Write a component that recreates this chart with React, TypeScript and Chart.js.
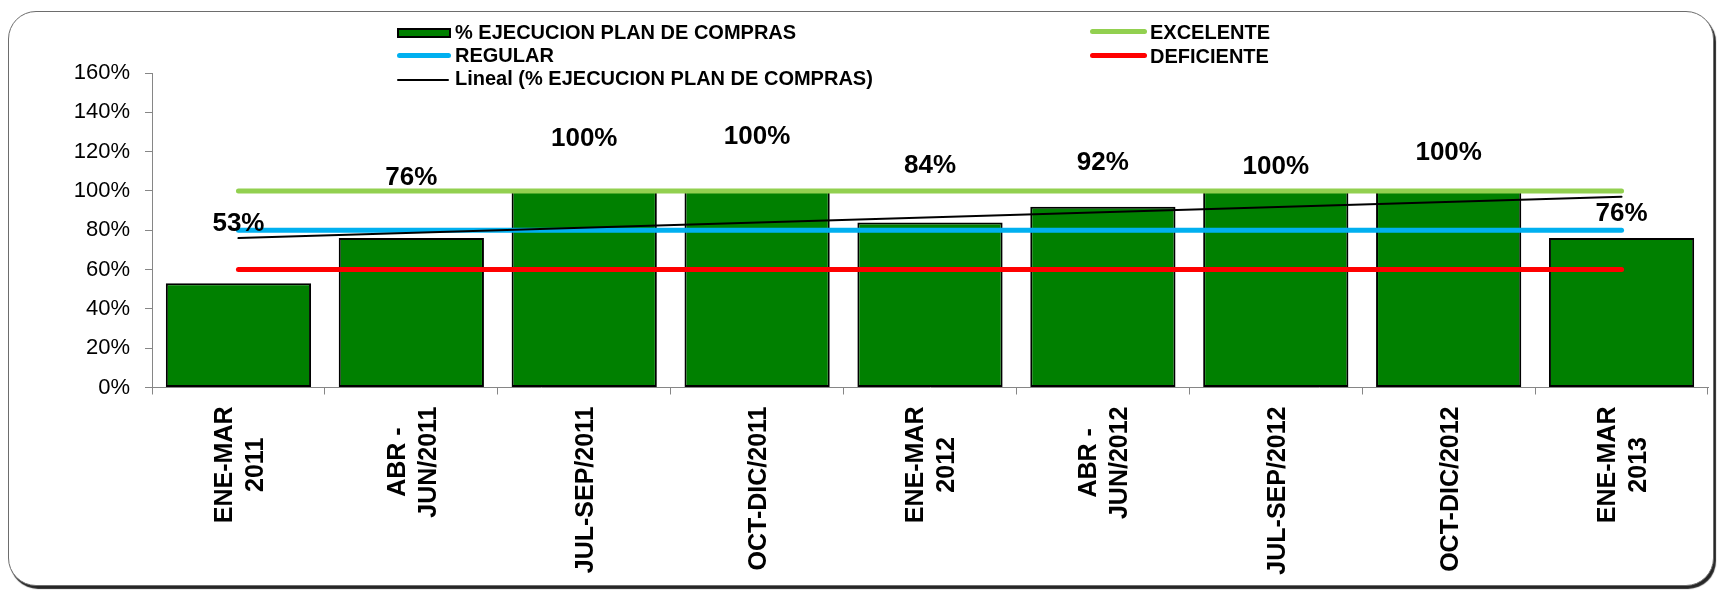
import React, { useEffect, useRef } from 'react';
import { Chart, registerables } from 'chart.js';

Chart.register(...registerables);

// ---------- data ----------
const categories: string[][] = [
  ['ENE-MAR', '2011'],
  ['ABR -', 'JUN/2011'],
  ['JUL-SEP/2011'],
  ['OCT-DIC/2011'],
  ['ENE-MAR', '2012'],
  ['ABR -', 'JUN/2012'],
  ['JUL-SEP/2012'],
  ['OCT-DIC/2012'],
  ['ENE-MAR', '2013'],
];
const ejecucion = [53, 76, 100, 100, 84, 92, 100, 100, 76];
const excelente = [100, 100, 100, 100, 100, 100, 100, 100, 100];
const regular = [80, 80, 80, 80, 80, 80, 80, 80, 80];
const deficiente = [60, 60, 60, 60, 60, 60, 60, 60, 60];
// linear trend line, read at first and last category
const trendEnds = [76, 97];
// level (in %) at which each data label sits in the picture
const labelLevels = [84.2, 107.8, 127.5, 128.7, 113.8, 115.4, 113.5, 120.5, 89.3];
const yTickValues = [0, 20, 40, 60, 80, 100, 120, 140, 160];

const seriesNames = {
  bar: '% EJECUCION PLAN DE COMPRAS',
  excelente: 'EXCELENTE',
  regular: 'REGULAR',
  deficiente: 'DEFICIENTE',
  trend: 'Lineal (% EJECUCION PLAN DE COMPRAS)',
};

const colors = {
  bar: '#008000',
  excelente: '#92D050',
  regular: '#00B0F0',
  deficiente: '#FF0000',
  trend: '#000000',
  axis: '#868686',
};

const FONT = '"Liberation Sans", Arial, Helvetica, sans-serif';
const W = 1719;
const H = 590;

export default function App() {
  const ref = useRef<HTMLCanvasElement>(null);

  useEffect(() => {
    if (!ref.current) return;
    const n = categories.length;
    const trend = categories.map((_, i) =>
      i === 0 ? trendEnds[0] : i === n - 1 ? trendEnds[1] : null
    );

    const barLabelPlugin = {
      id: 'barLabels',
      afterDatasetsDraw(chart: any) {
        const { ctx } = chart;
        const x = chart.scales.x;
        const y = chart.scales.y;
        ctx.save();
        ctx.font = `bold 26px ${FONT}`;
        ctx.fillStyle = '#000';
        ctx.textAlign = 'center';
        ctx.textBaseline = 'alphabetic';
        ejecucion.forEach((v, i) => {
          const px = x.getPixelForValue(i);
          const py = y.getPixelForValue(labelLevels[i]);
          ctx.fillText(`${v}%`, px, py + 0.358 * 26);
        });
        ctx.restore();
      },
    };

    const xLabelPlugin = {
      id: 'xLabels',
      afterDraw(chart: any) {
        const { ctx } = chart;
        const x = chart.scales.x;
        ctx.save();
        ctx.font = `bold 25px ${FONT}`;
        ctx.fillStyle = '#000';
        ctx.textAlign = 'center';
        ctx.textBaseline = 'alphabetic';
        categories.forEach((lines, i) => {
          const cx = x.getPixelForValue(i);
          const maxW = Math.max(...lines.map((l) => ctx.measureText(l).width));
          const cy = x.top + 19 + maxW / 2;
          lines.forEach((l, j) => {
            const lx = cx + (j - (lines.length - 1) / 2) * 31;
            ctx.save();
            ctx.translate(lx, cy);
            ctx.rotate(-Math.PI / 2);
            ctx.fillText(l, 0, 0.358 * 25);
            ctx.restore();
          });
        });
        ctx.restore();
      },
    };

    const lineDs = (label: string, data: any[], color: string, width: number, order: number) => ({
      type: 'line' as const,
      label,
      data,
      borderColor: color,
      backgroundColor: color,
      borderWidth: width,
      borderCapStyle: 'round' as const,
      pointRadius: 0,
      pointHoverRadius: 0,
      fill: false,
      tension: 0,
      spanGaps: true,
      order,
    });

    const chart = new Chart(ref.current, {
      type: 'bar',
      data: {
        labels: categories.map((c) => c.join(' ')),
        datasets: [
          {
            type: 'bar',
            label: seriesNames.bar,
            data: ejecucion,
            backgroundColor: colors.bar,
            borderColor: '#000',
            borderWidth: 2,
            borderSkipped: false,
            barPercentage: 0.84,
            categoryPercentage: 1,
            order: 10,
          } as any,
          lineDs(seriesNames.excelente, excelente, colors.excelente, 5, 4),
          lineDs(seriesNames.regular, regular, colors.regular, 5, 3),
          lineDs(seriesNames.deficiente, deficiente, colors.deficiente, 5, 2),
          lineDs(seriesNames.trend, trend, colors.trend, 2, 1),
        ],
      },
      options: {
        responsive: false,
        animation: false,
        devicePixelRatio: 1,
        layout: { padding: { top: 73, right: 11, left: 0, bottom: 0 } },
        plugins: {
          legend: { display: false },
          tooltip: { enabled: false },
        },
        scales: {
          x: {
            type: 'category',
            offset: true,
            grid: {
              offset: true,
              drawOnChartArea: false,
              drawTicks: true,
              tickLength: 7,
              color: colors.axis,
              lineWidth: 1,
            },
            border: { display: true, color: colors.axis, width: 1 },
            ticks: { display: false },
            afterFit: (s: any) => {
              s.height = H - 387.5;
            },
          },
          y: {
            min: 0,
            max: 160,
            grid: {
              drawOnChartArea: false,
              drawTicks: true,
              tickLength: 7,
              color: colors.axis,
              lineWidth: 1,
            },
            border: { display: true, color: colors.axis, width: 1 },
            afterBuildTicks: (s: any) => {
              s.ticks = yTickValues.map((v) => ({ value: v }));
            },
            ticks: {
              color: '#000',
              padding: 15,
              font: { family: FONT, size: 22, weight: 'normal' },
              callback: (v: any) => `${v}%`,
            },
            afterFit: (s: any) => {
              s.width = 152;
            },
          },
        },
      },
      plugins: [barLabelPlugin, xLabelPlugin],
    } as any);

    return () => chart.destroy();
  }, []);

  const textStyle = (left: number, capCenter: number): React.CSSProperties => ({
    position: 'absolute',
    left,
    top: capCenter - 10.8,
    font: `bold 20px ${FONT}`,
    lineHeight: '22px',
    color: '#000',
    whiteSpace: 'nowrap',
  });

  const lineSwatch = (left: number, cy: number, width: number, thick: number, color: string): React.CSSProperties => ({
    position: 'absolute',
    left,
    top: cy - thick / 2,
    width,
    height: thick,
    background: color,
    borderRadius: thick / 2,
  });

  return (
    <div
      style={{
        position: 'fixed',
        left: 0,
        top: 0,
        width: W,
        height: H,
        overflow: 'hidden',
        background: '#fff',
      }}
    >
      <div
        style={{
          position: 'absolute',
          left: 8,
          top: 11,
          width: 1706,
          height: 575,
          boxSizing: 'border-box',
          border: '1.5px solid #6d6d6d',
          borderRadius: 28,
          boxShadow: '2px 3px 1px rgba(0,0,0,0.85)',
          background: '#fff',
        }}
      />
      <canvas
        ref={ref}
        width={W}
        height={H}
        style={{ position: 'absolute', left: 0, top: 0, width: W, height: H }}
      />
      {/* legend */}
      <div style={{ position: 'absolute', left: 0, top: 0 }}>
        <div
          style={{
            position: 'absolute',
            left: 397,
            top: 28,
            width: 54,
            height: 10,
            boxSizing: 'border-box',
            background: colors.bar,
            border: '2px solid #000',
          }}
        />
        <div style={textStyle(455, 31.7)}>{seriesNames.bar}</div>
        <div style={lineSwatch(397, 55.7, 54, 5, colors.regular)} />
        <div style={textStyle(455, 54.7)}>{seriesNames.regular}</div>
        <div style={lineSwatch(397, 80, 52, 2, colors.trend)} />
        <div style={textStyle(455, 77.5)}>{seriesNames.trend}</div>
        <div style={lineSwatch(1090, 31, 57, 5, colors.excelente)} />
        <div style={textStyle(1150, 32)}>{seriesNames.excelente}</div>
        <div style={lineSwatch(1090, 55.7, 57, 5, colors.deficiente)} />
        <div style={textStyle(1150, 55.8)}>{seriesNames.deficiente}</div>
      </div>
    </div>
  );
}
